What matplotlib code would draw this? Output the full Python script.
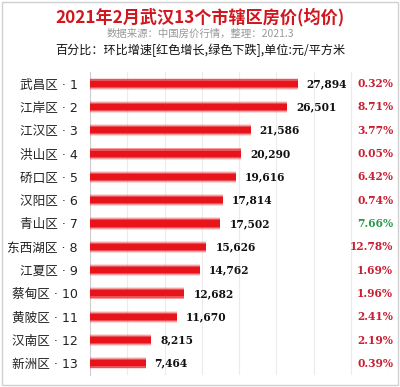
import matplotlib
matplotlib.use('Agg')
import matplotlib.pyplot as plt
import matplotlib.transforms as mtransforms
from matplotlib.patches import Rectangle

plt.rcParams['font.family'] = ['Noto Sans CJK SC', 'DejaVu Sans']

# data
districts = ['武昌区', '江岸区', '江汉区', '洪山区', '硚口区', '汉阳区', '青山区',
             '东西湖区', '江夏区', '蔡甸区', '黄陂区', '汉南区', '新洲区']
prices = [27894, 26501, 21586, 20290, 19616, 17814, 17502,
          15626, 14762, 12682, 11670, 8215, 7464]
changes = ['0.32%', '8.71%', '3.77%', '0.05%', '6.42%', '0.74%', '7.66%',
           '12.78%', '1.69%', '1.96%', '2.41%', '2.19%', '0.39%']
change_up = [True, True, True, True, True, True, False,
             True, True, True, True, True, True]

labels = [f'{d} · {i + 1}' for i, d in enumerate(districts)]
pos = list(range(1, len(districts) + 1))

fig = plt.figure(figsize=(4.0, 3.87), dpi=100)
ax = fig.add_axes([0.225, 0.031, 0.745, 0.783])

# bars with a soft glow: several layers
red = '#e8141c'
for h, a in [(0.52, 0.15), (0.44, 0.3), (0.36, 0.55), (0.26, 1.0)]:
    ax.barh(pos, prices, height=h, color=red, alpha=a, linewidth=0, zorder=3)

for p, v in zip(pos, prices):
    ax.text(v + 1200, p, f'{v:,}', ha='left', va='center', fontsize=7.7,
            fontweight='bold', family='DejaVu Serif', color='#111111', zorder=4)

trans = mtransforms.blended_transform_factory(fig.transFigure, ax.transData)
for p, c, up in zip(pos, changes, change_up):
    ax.text(0.983, p, c, transform=trans, ha='right', va='center', fontsize=7.7,
            fontweight='bold', family='DejaVu Serif',
            color='#c81e32' if up else '#2e9a50')

ax.set_xlim(0, 40000)
ax.set_ylim(13.5, 0.5)
ax.set_xticks(range(0, 40001, 5000))
ax.set_xticklabels([])
ax.tick_params(axis='x', length=0)
ax.set_yticks(pos)
ax.set_yticklabels(labels, fontsize=9.1, color='#222222',
                   family=['DejaVu Sans', 'Noto Sans CJK SC'])
ax.tick_params(axis='y', length=0, pad=9)
ax.grid(axis='x', color='#ececec', linewidth=0.8, zorder=0)
for s in ['top', 'right', 'bottom']:
    ax.spines[s].set_visible(False)
ax.spines['left'].set_color('#cfcfcf')
ax.spines['left'].set_linewidth(0.8)

fig.text(0.5, 0.956, '2021年2月武汉13个市辖区房价(均价)', ha='center', va='center',
         fontsize=12.3, fontweight='bold', color='#d2161e')
fig.text(0.5, 0.912, '数据来源：中国房价行情，整理：2021.3', ha='center', va='center',
         fontsize=7.5, color='#999999')
fig.text(0.5, 0.871, '百分比：环比增速[红色增长,绿色下跌],单位:元/平方米', ha='center',
         va='center', fontsize=8.7, color='#111111')

fig.patches.append(Rectangle((0.004, 0.004), 0.992, 0.992, transform=fig.transFigure,
                             fill=False, edgecolor='#d0d0d0', linewidth=1.0))

fig.savefig('out.png', dpi=100)
